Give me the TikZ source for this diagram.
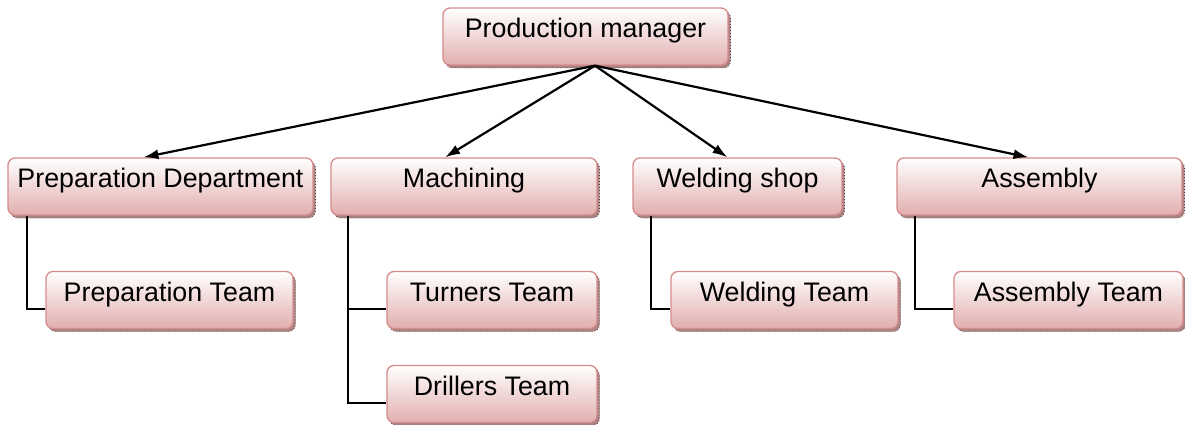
\documentclass[tikz,border=0pt]{standalone}
\usepackage{fontspec}
\setmainfont{Liberation Sans}
\usepackage{tikz}
\usetikzlibrary{arrows.meta}
\usetikzlibrary{calc}
\usetikzlibrary{shadows}
\definecolor{boxpink}{RGB}{226,174,174}
\definecolor{boxline}{RGB}{214,140,140}
\definecolor{boxshade}{RGB}{170,130,130}
\definecolor{boxtick}{RGB}{80,60,60}
\tikzset{>={Latex[length=15pt,width=10pt]}}
\tikzset{
    unit/.style={rounded corners=7pt, draw=boxline, line width=1.3pt,
        top color=white, bottom color=boxpink,
        minimum height=57pt, text height=21pt, text depth=19pt,
        inner ysep=8.5pt, inner xsep=0pt,
        font=\fontsize{26.8}{28}\selectfont,
        general shadow={fill=boxshade, draw=boxtick, line width=0.7pt,
            dash pattern=on 0.7pt off 2.3pt, shadow xshift=2.5pt, shadow yshift=-3pt}},
    link/.style={line width=2.2pt}
}

\begin{document}
\begin{tikzpicture}[x=1pt, y=-1pt]
            \useasboundingbox (0, 0) rectangle (1185, 425);

            % top of the chart
            \node[unit, minimum width=285pt] (pm) at (585.5, 36.5) {Production manager};

            % departments
            \node[unit, minimum width=305pt] (prep) at (160.5, 186.5) {Preparation Department};
            \node[unit, minimum width=266pt] (mach) at (464, 186.5) {Machining};
            \node[unit, minimum width=209pt] (weld) at (737.5, 186.5) {Welding shop};
            \node[unit, minimum width=285pt] (assy) at (1039.5, 186.5) {Assembly};

            % teams
            \node[unit, minimum width=247pt] (prepteam) at (169.5, 300) {Preparation Team};
            \node[unit, minimum width=210pt] (turners) at (492, 300) {Turners Team};
            \node[unit, minimum width=210pt] (drillers) at (492, 394) {Drillers Team};
            \node[unit, minimum width=227pt] (weldteam) at (784.5, 300) {Welding Team};
            \node[unit, minimum width=229pt] (assyteam) at (1068.5, 300) {Assembly Team};

            \coordinate (hub) at ($(pm.south) + (9.5, 0)$);
            \foreach \n/\dx in {prep/-17, mach/-19, weld/-10, assy/-11} {
                \draw[link, ->] (hub) -- ($(\n.north) + (\dx, 0)$);
            }

            \draw[link] ($(prep.south west) + (20, 0)$) |- ($(prepteam.west) + (0, 9)$);
            \draw[link] ($(mach.south west) + (18, 0)$) |- ($(drillers.west) + (0, 9)$);
            \draw[link] ($(mach.south west) + (18, 0)$) |- ($(turners.west) + (0, 9)$);
            \draw[link] ($(weld.south west) + (19, 0)$) |- ($(weldteam.west) + (0, 9)$);
            \draw[link] ($(assy.south west) + (19, 0)$) |- ($(assyteam.west) + (0, 9)$);
        \end{tikzpicture}
\end{document}
